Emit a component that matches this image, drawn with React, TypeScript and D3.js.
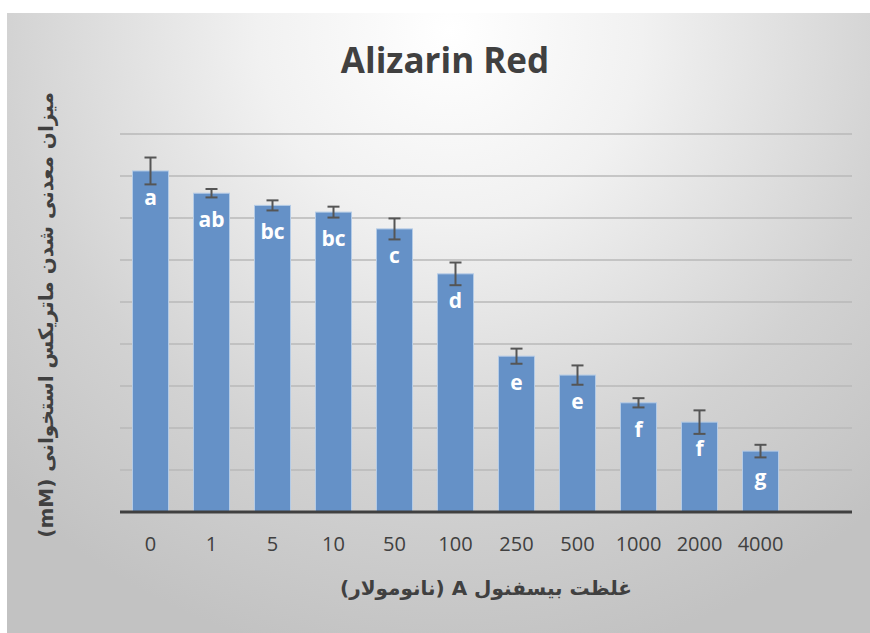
import { useEffect, useRef } from "react";
import * as d3 from "d3";

// concentrations (nM), the last slot is an empty band like the original axis
const CATEGORIES = ["0", "1", "5", "10", "50", "100", "250", "500", "1000", "2000", "4000"];
const MEANS = [8.12, 7.59, 7.3, 7.14, 6.74, 5.67, 3.71, 3.26, 2.6, 2.14, 1.45];
const ERRORS = [0.32, 0.1, 0.12, 0.13, 0.25, 0.27, 0.18, 0.23, 0.11, 0.28, 0.15];
const GROUPS = ["a", "ab", "bc", "bc", "c", "d", "e", "e", "f", "f", "g"];
const GRID_TICKS = [1, 2, 3, 4, 5, 6, 7, 8, 9];

const TITLE = "Alizarin Red";
const Y_TITLE = "میزان معدنی شدن ماتریکس استخوانی (mM)";
const X_TITLE = "غلظت بیسفنول A (نانومولار)";

const W = 870;
const H = 633;
const PLOT = { left: 120, right: 852, top: 134, bottom: 512 };
const LATIN = "'Open Sans', 'Noto Sans', sans-serif";
const PERSIAN = "'DejaVu Sans', 'Noto Sans', sans-serif";

export default function App() {
    const svgRef = useRef<SVGSVGElement>(null);

    useEffect(() => {
        const svg = d3.select(svgRef.current);
        svg.selectAll("*").remove();

        const x = d3
            .scaleBand()
            .domain([...CATEGORIES, "__empty"])
            .range([PLOT.left, PLOT.right])
            .paddingInner(0.41)
            .paddingOuter(0.205);
        const y = d3.scaleLinear().domain([0, 9]).range([PLOT.bottom, PLOT.top]);

        // soft radial background like the Excel chart area
        const defs = svg.append("defs");
        const grad = defs
            .append("radialGradient")
            .attr("id", "bg")
            .attr("gradientUnits", "userSpaceOnUse")
            .attr("cx", 450)
            .attr("cy", 30)
            .attr("r", 640);
        grad.append("stop").attr("offset", 0).attr("stop-color", "#ffffff");
        grad.append("stop").attr("offset", 0.3).attr("stop-color", "#f1f1f1");
        grad.append("stop").attr("offset", 0.7).attr("stop-color", "#d2d2d2");
        grad.append("stop").attr("offset", 1).attr("stop-color", "#c2c2c2");

        svg.append("rect").attr("width", W).attr("height", H).attr("fill", "#ffffff");
        svg.append("rect").attr("x", 7).attr("y", 13).attr("width", W - 7).attr("height", H - 13).attr("fill", "url(#bg)");

        svg.append("text")
            .attr("x", 445)
            .attr("y", 73)
            .attr("text-anchor", "middle")
            .attr("font-family", LATIN)
            .attr("font-weight", 700)
            .attr("font-size", 35)
            .attr("fill", "#404040")
            .text(TITLE);

        svg.append("g")
            .selectAll("line")
            .data(GRID_TICKS)
            .join("line")
            .attr("x1", PLOT.left)
            .attr("x2", PLOT.right)
            .attr("y1", (d) => y(d))
            .attr("y2", (d) => y(d))
            .attr("stroke", "#b8b8b8")
            .attr("stroke-width", 1.5);

        const idx = d3.range(CATEGORIES.length);

        svg.append("g")
            .selectAll("rect")
            .data(idx)
            .join("rect")
            .attr("x", (i) => x(CATEGORIES[i])!)
            .attr("y", (i) => y(MEANS[i]))
            .attr("width", x.bandwidth())
            .attr("height", (i) => y(0) - y(MEANS[i]))
            .attr("fill", "#6591c7")
            .attr("stroke", "#b4cbe6")
            .attr("stroke-width", 1);

        // error bars
        const eb = svg.append("g").attr("stroke", "#555555").attr("stroke-width", 2);
        idx.forEach((i) => {
            const cx = x(CATEGORIES[i])! + x.bandwidth() / 2;
            const y0 = y(MEANS[i] - ERRORS[i]);
            const y1 = y(MEANS[i] + ERRORS[i]);
            eb.append("line").attr("x1", cx).attr("x2", cx).attr("y1", y0).attr("y2", y1);
            eb.append("line").attr("x1", cx - 6).attr("x2", cx + 6).attr("y1", y0).attr("y2", y0);
            eb.append("line").attr("x1", cx - 6).attr("x2", cx + 6).attr("y1", y1).attr("y2", y1);
        });

        svg.append("g")
            .selectAll("text")
            .data(idx)
            .join("text")
            .attr("x", (i) => x(CATEGORIES[i])! + x.bandwidth() / 2)
            .attr("y", (i) => y(MEANS[i]) + 34)
            .attr("text-anchor", "middle")
            .attr("font-family", LATIN)
            .attr("font-weight", 700)
            .attr("font-size", 21)
            .attr("fill", "#ffffff")
            .text((i) => GROUPS[i]);

        // baseline
        svg.append("line")
            .attr("x1", PLOT.left)
            .attr("x2", PLOT.right)
            .attr("y1", y(0))
            .attr("y2", y(0))
            .attr("stroke", "#404040")
            .attr("stroke-width", 3);

        svg.append("g")
            .selectAll("text")
            .data(CATEGORIES)
            .join("text")
            .attr("x", (d) => x(d)! + x.bandwidth() / 2)
            .attr("y", 551)
            .attr("text-anchor", "middle")
            .attr("font-family", LATIN)
            .attr("font-size", 20)
            .attr("fill", "#404040")
            .text((d) => d);

        svg.append("text")
            .attr("x", 486)
            .attr("y", 595)
            .attr("text-anchor", "middle")
            .attr("direction", "rtl")
            .attr("font-family", PERSIAN)
            .attr("font-weight", 700)
            .attr("font-size", 20)
            .attr("fill", "#404040")
            .text(X_TITLE);

        svg.append("text")
            .attr("transform", `translate(53,315) rotate(-90)`)
            .attr("text-anchor", "middle")
            .attr("direction", "rtl")
            .attr("font-family", PERSIAN)
            .attr("font-weight", 700)
            .attr("font-size", 20)
            .attr("fill", "#404040")
            .text(Y_TITLE);
    }, []);

    return (
        <svg
            ref={svgRef}
            width={W}
            height={H}
            style={{ position: "absolute", left: 0, top: 0, display: "block" }}
            role="img"
            aria-label="Alizarin Red bar chart"
        />
    );
}
